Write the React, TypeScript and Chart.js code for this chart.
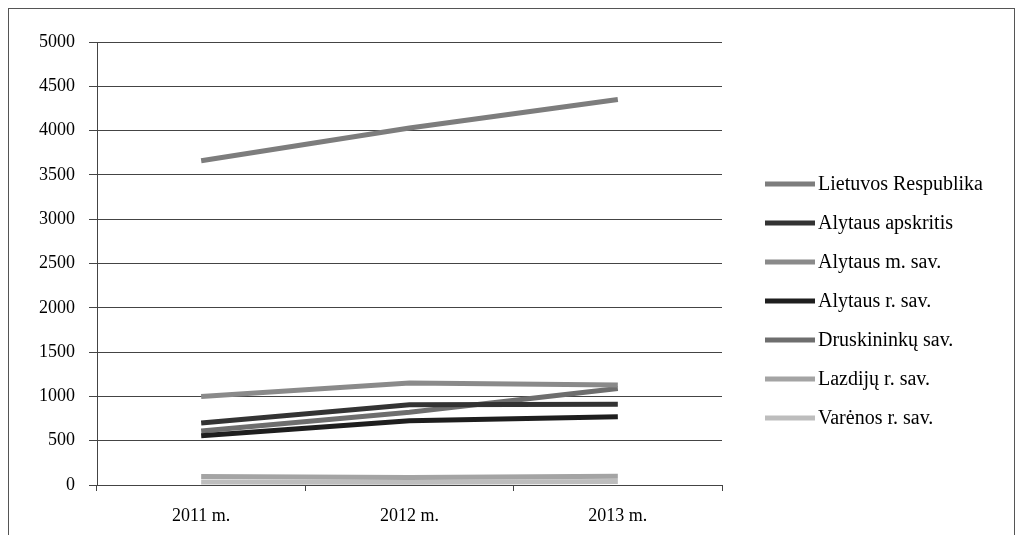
import React, { useEffect, useRef } from "react";
import { Chart, registerables } from "chart.js";

Chart.register(...registerables);

const categories = ["2011 m.", "2012 m.", "2013 m."];
const seriesNames = [
  "Lietuvos Respublika",
  "Alytaus apskritis",
  "Alytaus m. sav.",
  "Alytaus r. sav.",
  "Druskininkų sav.",
  "Lazdijų r. sav.",
  "Varėnos r. sav.",
];
const lietuvos = [3660, 4030, 4350];
const alytausApskritis = [700, 905, 910];
const alytausM = [1000, 1150, 1130];
const alytausR = [555, 725, 770];
const druskininku = [610, 820, 1090];
const lazdiju = [95, 85, 100];
const varenos = [35, 30, 40];
const yTicks = [0, 500, 1000, 1500, 2000, 2500, 3000, 3500, 4000, 4500, 5000];

const seriesValues = [lietuvos, alytausApskritis, alytausM, alytausR, druskininku, lazdiju, varenos];
const seriesColors = ["#7d7d7d", "#333333", "#8a8a8a", "#1e1e1e", "#6e6e6e", "#a4a4a4", "#bdbdbd"];

const FONT = "'Liberation Serif', 'Times New Roman', serif";

const sideLegend = {
  id: "sideLegend",
  afterDraw(chart: any) {
    const ctx = chart.ctx;
    const x0 = chart.chartArea.right + 43;
    const lineLen = 50;
    const y0 = 175;
    const step = 39;
    ctx.save();
    ctx.font = `20px ${FONT}`;
    ctx.textBaseline = "middle";
    ctx.textAlign = "left";
    chart.data.datasets.forEach((ds: any, i: number) => {
      const y = y0 + i * step;
      ctx.strokeStyle = ds.borderColor;
      ctx.lineWidth = 5;
      ctx.beginPath();
      ctx.moveTo(x0, y);
      ctx.lineTo(x0 + lineLen, y);
      ctx.stroke();
      ctx.fillStyle = "#000";
      ctx.fillText(ds.label, x0 + lineLen + 3, y + 1);
    });
    ctx.restore();
  },
};

export default function App() {
  const ref = useRef<HTMLCanvasElement | null>(null);
  useEffect(() => {
    if (!ref.current) return;
    const chart = new Chart(ref.current, {
      type: "line",
      data: {
        labels: categories,
        datasets: seriesNames.map((name, i) => ({
          label: name,
          data: seriesValues[i],
          borderColor: seriesColors[i],
          backgroundColor: seriesColors[i],
          borderWidth: 5,
          pointRadius: 0,
          tension: 0,
        })),
      },
      options: {
        animation: false,
        responsive: true,
        maintainAspectRatio: false,
        layout: { padding: { top: 33, bottom: 0, left: 0, right: 292 } },
        plugins: {
          tooltip: { enabled: false },
          legend: { display: false },
        },
        scales: {
          x: {
            offset: true,
            afterFit: (s: any) => {
              s.height = 50;
            },
            grid: { drawOnChartArea: false, drawTicks: true, tickLength: 6, offset: true, color: "#444" },
            border: { display: true, color: "#444" },
            ticks: { color: "#000", font: { family: FONT, size: 18 }, padding: 14 },
          },
          y: {
            min: 0,
            max: 5000,
            afterFit: (s: any) => {
              s.width = 88;
            },
            afterBuildTicks: (s: any) => {
              s.ticks = yTicks.map((v) => ({ value: v }));
            },
            grid: { color: "#444", lineWidth: 1, drawTicks: true, tickLength: 8 },
            border: { display: true, color: "#444" },
            ticks: {
              color: "#000",
              font: { family: FONT, size: 18 },
              padding: 14,
              callback: (v: any) => String(v),
            },
          },
        },
      },
      plugins: [sideLegend],
    });
    return () => chart.destroy();
  }, []);
  return (
    <div
      style={{
        width: 1007,
        height: 527,
        borderTop: "1px solid #555",
        borderLeft: "1px solid #555",
        borderRight: "1px solid #555",
        boxSizing: "border-box",
        position: "relative",
        background: "#fff",
      }}
    >
      <div style={{ width: 1005, height: 526, position: "relative" }}>
        <canvas ref={ref} />
      </div>
    </div>
  );
}
